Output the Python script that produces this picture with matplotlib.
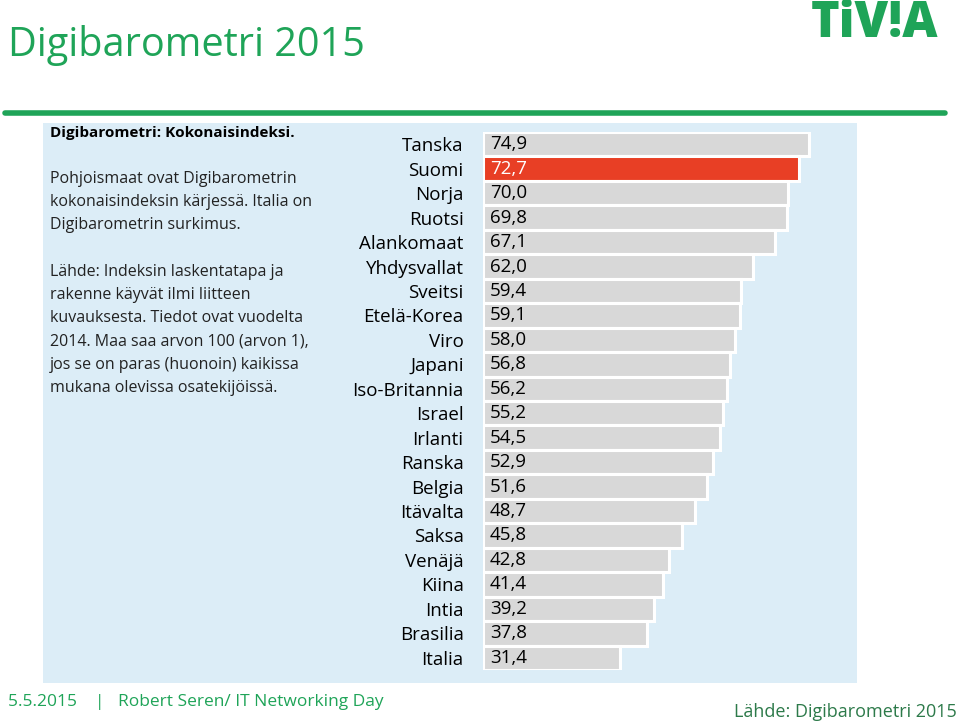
import matplotlib.pyplot as plt
from matplotlib.patches import Rectangle
from matplotlib.lines import Line2D

# Digibarometri 2015 - kokonaisindeksi
countries = ["Tanska", "Suomi", "Norja", "Ruotsi", "Alankomaat", "Yhdysvallat",
             "Sveitsi", "Etelä-Korea", "Viro", "Japani", "Iso-Britannia", "Israel",
             "Irlanti", "Ranska", "Belgia", "Itävalta", "Saksa", "Venäjä", "Kiina",
             "Intia", "Brasilia", "Italia"]
values = [74.9, 72.7, 70.0, 69.8, 67.1, 62.0, 59.4, 59.1, 58.0, 56.8, 56.2, 55.2,
          54.5, 52.9, 51.6, 48.7, 45.8, 42.8, 41.4, 39.2, 37.8, 31.4]
highlight = "Suomi"

GREEN = "#1fa458"
PANEL = "#dcedf7"
GREY = "#d8d8d8"
RED = "#e83f25"
FONT = "Open Sans"

W, H = 960, 727
fig = plt.figure(figsize=(W / 100, H / 100), dpi=100)

def fx(px):
    return px / W

def fy(py):
    return 1 - py / H

# light blue panel
fig.patches.append(Rectangle((fx(43), fy(683)), fx(857) - fx(43), fy(123) - fy(683),
                             transform=fig.transFigure, facecolor=PANEL, edgecolor="none", zorder=0))
# green rule under title
fig.add_artist(Line2D([fx(5), fx(945)], [fy(113), fy(113)], transform=fig.transFigure,
                      color=GREEN, linewidth=4, solid_capstyle="round"))

fig.text(fx(8), fy(46), "Digibarometri 2015", color=GREEN, fontsize=28.5, family=FONT,
         ha="left", va="center")
fig.text(fx(938), fy(24), "TiV!A", color=GREEN, fontsize=35, family=FONT,
         fontweight="heavy", ha="right", va="center")

fig.text(fx(50), fy(133), "Digibarometri: Kokonaisindeksi.", fontsize=11, family=FONT,
         fontweight="bold", ha="left", va="center")
body = ("Pohjoismaat ovat Digibarometrin\n"
        "kokonaisindeksin kärjessä. Italia on\n"
        "Digibarometrin surkimus.\n"
        "\n"
        "Lähde: Indeksin laskentatapa ja\n"
        "rakenne käyvät ilmi liitteen\n"
        "kuvauksesta. Tiedot ovat vuodelta\n"
        "2014. Maa saa arvon 100 (arvon 1),\n"
        "jos se on paras (huonoin) kaikissa\n"
        "mukana olevissa osatekijöissä.")
fig.text(fx(50), fy(171), body, fontsize=11.5, family=FONT, ha="left", va="top",
         linespacing=1.6, color="#222222")

# bar chart
ax = fig.add_axes([fx(483), fy(670), fx(857) - fx(483), fy(132) - fy(670)])
ax.set_zorder(2)
ax.set_facecolor("none")
n = len(countries)
ypos = list(range(n))
colors = [RED if c == highlight else GREY for c in countries]
ax.barh(ypos, values, height=1.0, color=colors, edgecolor="white", linewidth=2.2)
ax.set_xlim(0, 374 / 4.35)
ax.set_ylim(n - 0.5, -0.5)
for y, v, c in zip(ypos, values, countries):
    ax.text(1.6, y, f"{v:.1f}".replace(".", ","), va="center", ha="left",
            fontsize=13.5, family=FONT, color="white" if c == highlight else "black")
ax.set_yticks(ypos)
ax.set_yticklabels(countries, fontsize=13.5, family=FONT)
ax.tick_params(axis="y", length=0, pad=14)
ax.set_xticks([])
for s in ax.spines.values():
    s.set_visible(False)

# footer
fig.text(fx(8), fy(702), "5.5.2015    |   Robert Seren/ IT Networking Day", color=GREEN,
         fontsize=12.5, family=FONT, ha="left", va="center")
fig.text(fx(957), fy(712), "Lähde: Digibarometri 2015", color="#2d7a4a",
         fontsize=13, family=FONT, ha="right", va="center")

fig.savefig("out.png", dpi=100)
